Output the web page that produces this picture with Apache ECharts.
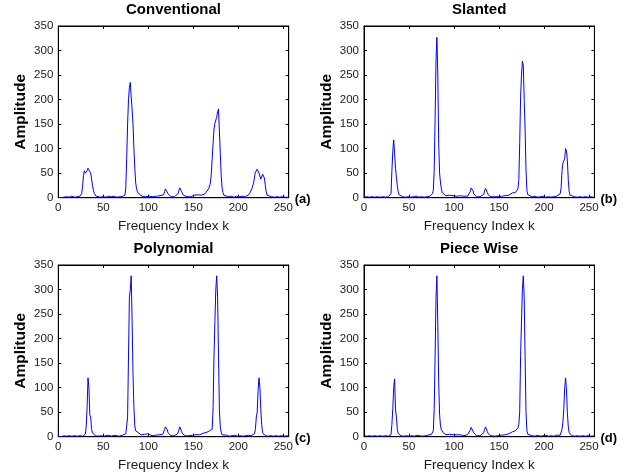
<!DOCTYPE html>
<html><head><meta charset="utf-8">
<script src="https://cdn.jsdelivr.net/npm/echarts@6/dist/echarts.min.js"></script>
<style>html,body{margin:0;padding:0;background:#fff}#c{width:628px;height:475px}</style>
</head><body><div id="c"></div>
<script>
const panelTitles = ['Conventional', 'Slanted', 'Polynomial', 'Piece Wise'];
const panelTags = ['(a)', '(b)', '(c)', '(d)'];
const xTicks = [0, 50, 100, 150, 200, 250];
const yTicks = [0, 50, 100, 150, 200, 250, 300, 350];
const xName = 'Frequency Index k';
const yName = 'Amplitude';

const conventional = [[0,1],[3,0],[6,1],[9,2],[12,1],[15,3],[18,1],[21,2],[24,3],[26,8],[27,25],[28,45],[29,55],[30,50],[31,47],[32,55],[33,60],[34,62],[35,60],[36,50],[37,38],[38,25],[39,15],[40,9],[41,6],[42,3],[44,2],[47,1],[50,2],[53,1],[56,3],[59,2],[62,3],[65,1],[68,2],[71,2],[73,3],[74,5],[75,20],[76,80],[77,150],[78,200],[79,225],[80,235],[81,205],[82,180],[83,150],[84,100],[85,60],[86,30],[87,18],[88,12],[89,9],[90,7],[91,5],[93,3],[95,6],[97,2],[99,5],[101,3],[103,5],[105,2],[107,4],[109,3],[111,2],[113,4],[115,3],[117,6],[118,12],[119,18],[120,21],[121,15],[122,8],[123,4],[125,2],[127,3],[129,2],[131,4],[133,8],[134,15],[135,20],[136,18],[137,12],[138,8],[139,5],[141,3],[143,2],[145,4],[147,2],[149,3],[151,5],[153,3],[155,6],[157,4],[159,5],[161,6],[163,8],[165,12],[167,18],[169,30],[170,49],[171,80],[172,110],[173,140],[174,151],[175,158],[176,164],[177,175],[178,181],[179,136],[180,90],[181,45],[182,20],[183,10],[184,5],[186,3],[189,2],[192,3],[195,1],[198,3],[201,2],[204,3],[207,2],[209,3],[211,5],[213,10],[215,18],[217,30],[218,42],[219,52],[220,56],[221,58],[222,56],[223,50],[224,44],[225,38],[226,42],[227,48],[228,49],[229,40],[230,25],[231,12],[232,5],[234,3],[237,2],[240,1],[243,2],[246,1],[249,2],[252,1],[255,1]];

const slanted = [[0,1],[3,2],[6,1],[9,2],[12,1],[15,2],[18,1],[21,2],[24,1],[27,2],[29,3],[30,8],[31,55],[32,95],[33,118],[34,90],[35,60],[36,42],[37,25],[38,12],[39,6],[40,3],[43,2],[46,1],[49,2],[52,1],[55,2],[58,3],[61,1],[64,2],[67,1],[70,2],[73,3],[75,5],[76,8],[77,15],[78,55],[79,160],[80,280],[81,327],[82,250],[83,110],[84,50],[85,30],[86,18],[87,10],[88,8],[89,6],[91,4],[93,3],[95,5],[97,2],[99,4],[101,6],[103,3],[105,2],[107,4],[109,2],[111,3],[113,4],[115,3],[117,6],[118,12],[119,20],[120,22],[121,15],[122,8],[123,4],[125,2],[127,3],[129,2],[131,3],[133,7],[134,14],[135,19],[136,17],[137,11],[138,6],[139,3],[141,2],[143,1],[145,2],[147,3],[149,2],[151,4],[153,3],[155,5],[157,4],[159,6],[161,5],[163,8],[165,10],[166,7],[167,12],[168,10],[169,14],[170,12],[171,18],[172,35],[173,110],[174,205],[175,250],[176,278],[177,270],[178,200],[179,140],[180,56],[181,15],[182,6],[184,3],[187,2],[190,3],[193,1],[196,2],[199,3],[202,1],[205,2],[208,1],[211,2],[214,3],[216,4],[218,8],[219,20],[220,55],[221,70],[222,75],[223,80],[224,100],[225,95],[226,75],[227,35],[228,12],[229,5],[231,3],[234,2],[237,1],[240,2],[243,1],[246,2],[249,1],[252,2],[255,1]];

const polynomial = [[0,1],[3,0],[6,2],[9,1],[12,2],[15,1],[18,2],[21,1],[24,2],[27,1],[29,3],[30,5],[31,20],[32,60],[33,120],[34,100],[35,45],[36,40],[37,15],[38,8],[39,4],[41,2],[44,1],[47,2],[50,1],[53,2],[56,3],[59,1],[62,3],[65,2],[68,1],[71,3],[73,4],[75,6],[76,10],[77,40],[78,165],[79,284],[80,300],[81,328],[82,236],[83,128],[84,60],[85,22],[86,12],[87,11],[88,10],[89,8],[90,6],[92,4],[94,3],[96,5],[98,3],[100,6],[102,4],[104,2],[106,4],[108,3],[110,2],[112,4],[114,3],[116,5],[117,8],[118,14],[119,20],[120,21],[121,15],[122,8],[123,4],[125,2],[127,3],[129,2],[131,3],[133,7],[134,14],[135,20],[136,18],[137,11],[138,6],[139,3],[141,2],[143,3],[145,2],[147,4],[149,3],[151,5],[153,4],[155,6],[157,4],[159,5],[161,7],[163,6],[165,9],[167,10],[168,12],[169,10],[170,12],[171,15],[172,60],[173,165],[174,235],[175,300],[176,328],[177,284],[178,165],[179,55],[180,20],[181,9],[182,4],[184,2],[187,3],[190,1],[193,2],[196,3],[199,1],[202,2],[205,1],[208,2],[211,3],[214,2],[216,4],[218,6],[219,15],[220,40],[221,50],[222,95],[223,120],[224,100],[225,55],[226,25],[227,8],[228,4],[230,2],[233,1],[236,2],[239,1],[242,2],[245,1],[248,2],[251,1],[255,2]];

const pieceWise = [[0,2],[3,1],[6,2],[9,1],[12,2],[15,1],[18,2],[21,1],[24,2],[27,1],[29,2],[30,4],[31,25],[32,57],[33,100],[34,118],[35,55],[36,40],[37,15],[38,7],[39,3],[41,2],[44,1],[47,2],[50,1],[53,2],[56,1],[59,3],[62,2],[65,1],[68,2],[71,3],[73,3],[75,5],[76,8],[77,12],[78,55],[79,163],[80,284],[81,328],[82,230],[83,110],[84,45],[85,22],[86,14],[87,10],[88,8],[89,6],[91,4],[93,3],[95,5],[97,3],[99,4],[101,6],[103,4],[105,2],[107,4],[109,3],[111,2],[113,3],[115,4],[117,7],[118,13],[119,19],[120,21],[121,15],[122,8],[123,4],[125,2],[127,3],[129,2],[131,3],[133,8],[134,15],[135,20],[136,18],[137,11],[138,6],[139,3],[141,2],[143,3],[145,1],[147,3],[149,2],[151,4],[153,3],[155,6],[157,4],[159,5],[161,6],[163,8],[165,10],[167,14],[168,12],[169,15],[170,15],[171,18],[172,25],[173,50],[174,165],[175,236],[176,300],[177,328],[178,284],[179,161],[180,51],[181,12],[182,5],[184,3],[187,2],[190,1],[193,3],[196,1],[199,2],[202,3],[205,1],[208,2],[211,1],[214,3],[216,2],[218,3],[219,5],[220,15],[221,30],[222,55],[223,100],[224,120],[225,95],[226,48],[227,20],[228,8],[229,4],[231,2],[234,1],[237,2],[240,1],[243,2],[246,1],[249,2],[252,1],[255,2]];

const seriesData = [conventional, slanted, polynomial, pieceWise];

const FONT = '"Liberation Sans", Arial, sans-serif';
const boxes = [
  {left: 58.3, top: 26, width: 230.4, height: 171.7},
  {left: 364, top: 26, width: 230.4, height: 171.7},
  {left: 58.3, top: 265, width: 230.4, height: 171.7},
  {left: 364, top: 265, width: 230.4, height: 171.7}
];
const XMIN = xTicks[0], XMAX = 256, XINT = xTicks[1] - xTicks[0];
const YMIN = yTicks[0], YMAX = yTicks[yTicks.length - 1], YINT = yTicks[1] - yTicks[0];

const grid = [], xAxis = [], yAxis = [], series = [], graphic = [];
boxes.forEach((b, i) => {
  grid.push({left: b.left, top: b.top, width: b.width, height: b.height, show: true,
    borderColor: '#000', borderWidth: 1, backgroundColor: '#fff', containLabel: false});
  const tickStyle = {show: true, inside: true, length: 3, lineStyle: {color: '#000', width: 1}};
  xAxis.push({type: 'value', gridIndex: i, min: XMIN, max: XMAX, interval: XINT, position: 'bottom',
    axisLine: {show: true, onZero: false, lineStyle: {color: '#000', width: 1}},
    axisTick: tickStyle, splitLine: {show: false},
    axisLabel: {show: true, showMaxLabel: false, margin: 4, color: '#1a1a1a', fontSize: 11.5, fontFamily: FONT}});
  xAxis.push({type: 'value', gridIndex: i, min: XMIN, max: XMAX, interval: XINT, position: 'top',
    axisLine: {show: true, onZero: false, lineStyle: {color: '#000', width: 1}},
    axisTick: tickStyle, splitLine: {show: false}, axisLabel: {show: false}});
  yAxis.push({type: 'value', gridIndex: i, min: YMIN, max: YMAX, interval: YINT, position: 'left',
    axisLine: {show: true, onZero: false, lineStyle: {color: '#000', width: 1}},
    axisTick: tickStyle, splitLine: {show: false},
    axisLabel: {show: true, margin: 5, color: '#1a1a1a', fontSize: 11.5, fontFamily: FONT}});
  yAxis.push({type: 'value', gridIndex: i, min: YMIN, max: YMAX, interval: YINT, position: 'right',
    axisLine: {show: true, onZero: false, lineStyle: {color: '#000', width: 1}},
    axisTick: tickStyle, splitLine: {show: false}, axisLabel: {show: false}});
  series.push({type: 'line', xAxisIndex: 2 * i, yAxisIndex: 2 * i, data: seriesData[i],
    showSymbol: false, symbol: 'none', lineStyle: {color: '#0000ff', width: 1}, clip: true,
    emphasis: {disabled: true}, z: 3});
  const cx = b.left + b.width / 2, cy = b.top + b.height / 2;
  graphic.push({type: 'text', x: cx, y: b.top - 16, style: {text: panelTitles[i],
    font: 'bold 15px ' + FONT, fill: '#000', align: 'center', verticalAlign: 'middle'}});
  graphic.push({type: 'text', x: b.left - 37.6, y: cy, rotation: Math.PI / 2, style: {text: yName,
    font: 'bold 15.5px ' + FONT, fill: '#000', align: 'center', verticalAlign: 'middle'}});
  graphic.push({type: 'text', x: cx, y: b.top + b.height + 28.5, style: {text: xName,
    font: '13.5px ' + FONT, fill: '#1a1a1a', align: 'center', verticalAlign: 'middle'}});
  graphic.push({type: 'text', x: b.left + b.width + 6, y: b.top + b.height + 1.5, style: {text: panelTags[i],
    font: 'bold 13px ' + FONT, fill: '#000', align: 'left', verticalAlign: 'middle'}});
});

const chart = echarts.init(document.getElementById('c'), null, {renderer: 'canvas'});
chart.setOption({animation: false, backgroundColor: '#fff', grid, xAxis, yAxis, series, graphic});
</script></body></html>
